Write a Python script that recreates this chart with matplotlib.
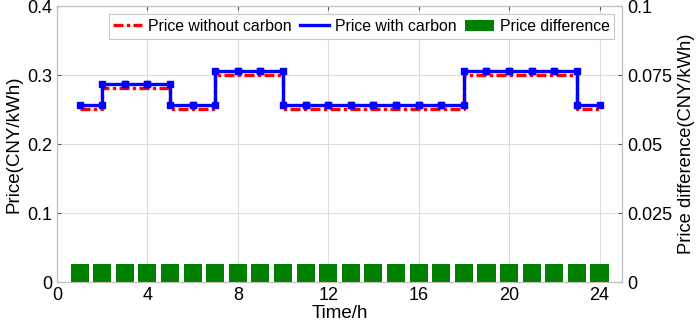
import matplotlib
matplotlib.use("Agg")
import matplotlib.pyplot as plt
import numpy as np
from matplotlib.lines import Line2D
from matplotlib.patches import Patch

plt.rcParams['font.family'] = ['Liberation Sans', 'DejaVu Sans']

hours = list(range(1, 25))
price_with = [0.257, 0.287, 0.287, 0.287, 0.257, 0.257, 0.306, 0.306, 0.306,
              0.257, 0.257, 0.257, 0.257, 0.257, 0.257, 0.257, 0.257,
              0.306, 0.306, 0.306, 0.306, 0.306, 0.257, 0.257]
price_without = [0.251, 0.281, 0.281, 0.281, 0.251, 0.251, 0.300, 0.300, 0.300,
                 0.251, 0.251, 0.251, 0.251, 0.251, 0.251, 0.251, 0.251,
                 0.300, 0.300, 0.300, 0.300, 0.300, 0.251, 0.251]
price_diff = [0.0065] * 24

left_ticks = [0, 0.1, 0.2, 0.3, 0.4]
left_labels = ['0', '0.1', '0.2', '0.3', '0.4']
right_ticks = [0, 0.025, 0.05, 0.075, 0.1]
right_labels = ['0', '0.025', '0.05', '0.075', '0.1']
x_ticks = [0, 4, 8, 12, 16, 20, 24]

DASHDOT = (0, (3, 1, 1, 1))


def stair_vertices(x, y):
    xs, ys = [], []
    for i in range(len(x) - 1):
        xs += [x[i], x[i + 1]]
        ys += [y[i], y[i]]
    return xs, ys


fig = plt.figure(figsize=(6.99, 3.24), dpi=100)
ax = fig.add_axes([0.0815, 0.1296, 0.8085, 0.8516])
ax2 = ax.twinx()

# left axis (grid + lines) drawn beneath right axis (bars + legend)
xw, yw = stair_vertices(hours, price_without)
ax.plot(xw, yw, color='red', linestyle=DASHDOT, linewidth=2.4, zorder=3)
xc, yc = stair_vertices(hours, price_with)
ax.plot(xc, yc, color='blue', linestyle='-', linewidth=2.4, marker='s',
        markersize=5, zorder=4)

ax.set_xlim(0, 25)
ax.set_ylim(0, 0.4)
ax.set_xticks(x_ticks)
ax.set_yticks(left_ticks)
ax.set_yticklabels(left_labels)
ax.set_xlabel('Time/h', fontsize=13.5, labelpad=1)
ax.set_ylabel('Price(CNY/kWh)', fontsize=13.5, labelpad=3)
ax.grid(True, color='#dcdcdc', linewidth=0.8)
ax.set_axisbelow(True)

ax2.bar(hours, price_diff, width=0.8, color='#008000', zorder=1)
ax2.set_ylim(0, 0.1)
ax2.set_yticks(right_ticks)
ax2.set_yticklabels(right_labels)
ax2.set_ylabel('Price difference(CNY/kWh)', fontsize=13.2)

for a in (ax, ax2):
    a.tick_params(direction='in', labelsize=13, length=3, color='#555555')
    for s in a.spines.values():
        s.set_color('#c0c0c0')
ax.tick_params(top=True)

handles = [Line2D([], [], color='red', linestyle=DASHDOT, linewidth=2.4),
           Line2D([], [], color='blue', linestyle='-', linewidth=2.4),
           Patch(facecolor='#008000')]
labels = ['Price without carbon', 'Price with carbon', 'Price difference']
leg = ax2.legend(handles, labels, ncol=3, loc='upper right',
                 bbox_to_anchor=(0.986, 0.971), fontsize=11.4, frameon=True,
                 fancybox=False, edgecolor='#c8c8c8', framealpha=1,
                 handlelength=1.8, columnspacing=0.55, handletextpad=0.38,
                 borderpad=0.3, borderaxespad=0)
leg.get_frame().set_linewidth(0.8)

fig.savefig('out.png', dpi=100)
